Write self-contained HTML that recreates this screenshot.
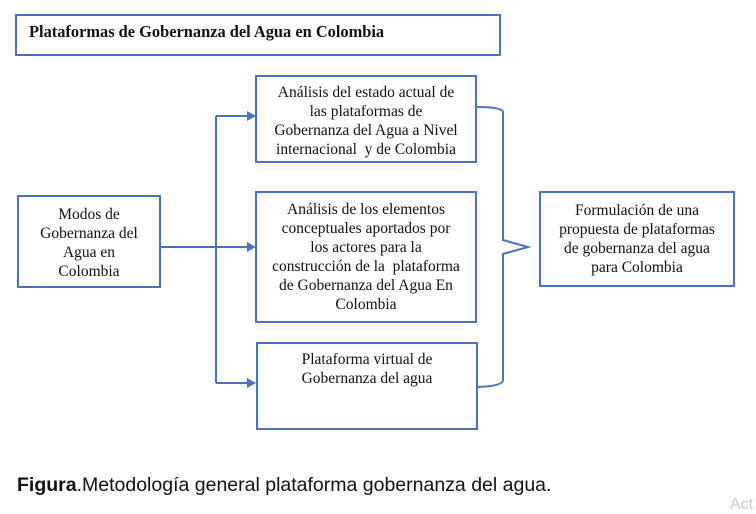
<!DOCTYPE html>
<html><head><meta charset="utf-8"><style>
body{margin:0;width:756px;height:509px;background:#fff;position:relative;overflow:hidden;font-family:"Liberation Serif",serif;color:#111}
.b{position:absolute;border:2px solid #4a72c0;box-sizing:border-box;text-align:center;font-size:15.5px;line-height:19px;background:#fff;white-space:nowrap}
</style></head><body>
<div class="b" style="left:15px;top:14px;width:486px;height:42px;text-align:left;padding:6px 0 0 12px;font-weight:bold;font-size:16.4px">Plataformas de Gobernanza del Agua en Colombia</div>
<div class="b" style="left:255px;top:75px;width:222px;height:88px;padding-top:6px">Análisis del estado actual de<br>las plataformas de<br>Gobernanza del Agua a Nivel<br>internacional&nbsp; y de Colombia</div>
<div class="b" style="left:255px;top:191px;width:222px;height:132px;padding-top:7px">Análisis de los elementos<br>conceptuales aportados por<br>los actores para la<br>construcción de la&nbsp; plataforma<br>de Gobernanza del Agua En<br>Colombia</div>
<div class="b" style="left:256px;top:342px;width:222px;height:88px;padding-top:6px">Plataforma virtual de<br>Gobernanza del agua</div>
<div class="b" style="left:17px;top:195px;width:144px;height:93px;padding-top:8px">Modos de<br>Gobernanza del<br>Agua en<br>Colombia</div>
<div class="b" style="left:539px;top:191px;width:196px;height:96px;padding-top:8px">Formulación de una<br>propuesta de plataformas<br>de gobernanza del agua<br>para Colombia</div>
<svg width="756" height="509" style="position:absolute;left:0;top:0" fill="none" stroke="#4a72c0" stroke-width="2">
<path d="M161 247H248M216 116V383M216 116H248M216 383H248"/>
<path d="M477 107Q503 107 503 112V240L528 247L503 254V380Q503 386 478 387"/>
<g fill="#4a72c0" stroke="none"><path d="M256 116l-9-5v10z"/><path d="M256 247l-9-5v10z"/><path d="M256 383l-9-5v10z"/></g>
</svg>
<div style="position:absolute;left:17px;top:474px;font-family:'Liberation Sans',sans-serif;font-size:19.5px"><b>Figura</b>.Metodología general plataforma gobernanza del agua.</div>
<div style="position:absolute;left:730px;top:496px;font-family:'Liberation Sans',sans-serif;font-size:16px;color:#ccc">Act</div>
</body></html>
